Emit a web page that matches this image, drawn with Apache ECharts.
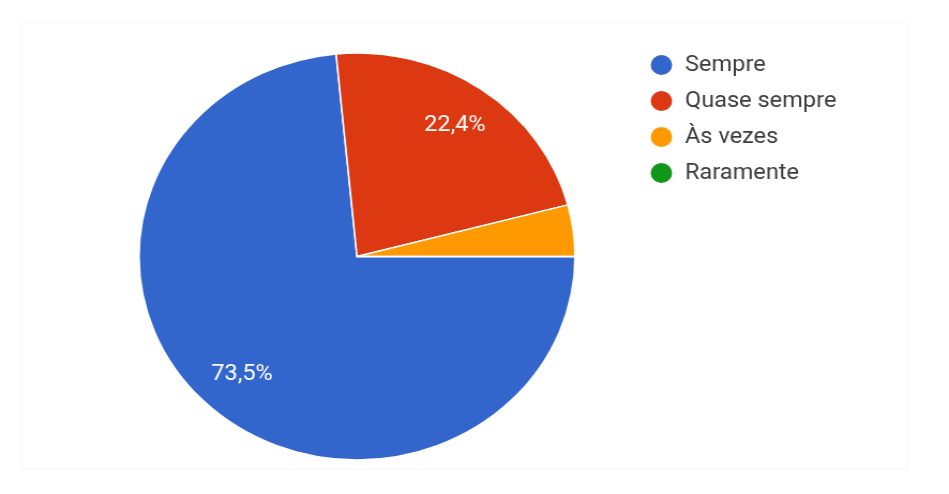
<!DOCTYPE html>
<html>
<head>
<meta charset="utf-8">
<script src="https://cdn.jsdelivr.net/npm/echarts@6/dist/echarts.min.js"></script>
<style>
  html, body { margin: 0; padding: 0; background: #fff; overflow: hidden; }
  #wrap { width: 949px; height: 494px; overflow: hidden; }
  /* chart drawn slightly narrower, then widened horizontally */
  #chart { width: 886px; height: 494px; transform: scaleX(1.0711); transform-origin: 0 0; }
</style>
</head>
<body>
<div id="wrap"><div id="chart"></div></div>
<script>
// Response categories and counts
const categories = ['Sempre', 'Quase sempre', 'Às vezes', 'Raramente'];
const counts = [36, 11, 2, 0];
const colors = ['#3366cc', '#dc3912', '#ff9900', '#109618'];

const pieData = categories.map((name, i) => ({ name: name, value: counts[i] }));

const center = [333.3, 256.5];
const R = 203.5;

const chart = echarts.init(document.getElementById('chart'), null, { renderer: 'canvas' });

chart.setOption({
  animation: false,
  color: colors,
  graphic: [{
    type: 'rect',
    shape: { x: 20, y: 23, width: 828, height: 446 },
    style: { fill: 'none', stroke: '#f7f7f7', lineWidth: 1 },
    silent: true
  }],
  legend: {
    orient: 'vertical',
    left: 600.5,
    top: 48,
    itemWidth: 22,
    itemHeight: 22,
    itemGap: 12,
    icon: 'circle',
    data: categories,
    textStyle: {
      fontFamily: 'Roboto',
      fontSize: 22,
      color: '#3c3c3c',
      padding: [0, 0, 0, 6]
    }
  },
  series: [
    {
      // slices
      type: 'pie',
      center: center,
      radius: R,
      startAngle: 0,
      clockwise: true,
      percentPrecision: 1,
      data: pieData,
      label: { show: false },
      labelLine: { show: false },
      emphasis: { disabled: true },
      itemStyle: { borderColor: '#fff', borderWidth: 1.5 }
    },
    {
      // percentage labels placed in the outer part of each slice
      type: 'pie',
      center: center,
      radius: [R * 0.54, R],
      startAngle: 0,
      clockwise: true,
      percentPrecision: 1,
      silent: true,
      data: pieData,
      minShowLabelAngle: 20,
      itemStyle: { color: 'rgba(0,0,0,0)' },
      emphasis: { disabled: true },
      labelLine: { show: false },
      label: {
        show: true,
        position: 'inside',
        fontFamily: 'Roboto',
        fontSize: 22,
        color: '#fff',
        formatter: p => p.percent.toFixed(1).replace('.', ',') + '%'
      }
    }
  ]
});
</script>
</body>
</html>
